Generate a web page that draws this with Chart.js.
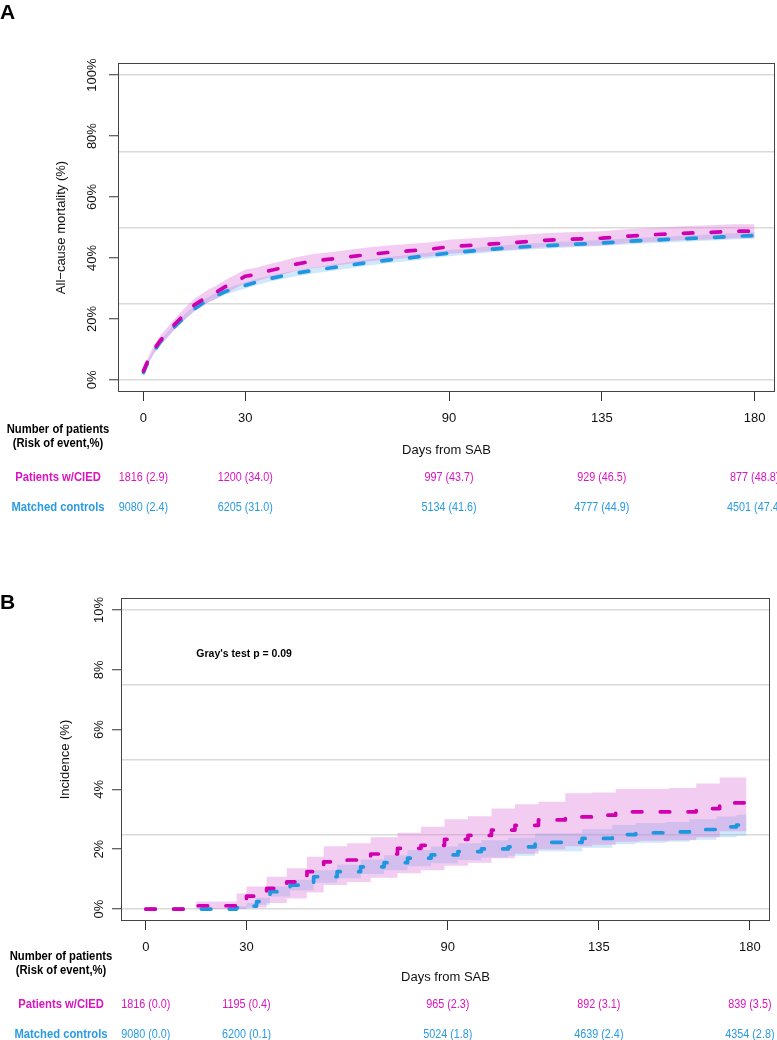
<!DOCTYPE html>
<html><head><meta charset="utf-8">
<script src="https://cdn.jsdelivr.net/npm/chart.js@4.4.1/dist/chart.umd.min.js"></script>
<style>
html,body{margin:0;padding:0;background:#fff;width:777px;height:1040px;overflow:hidden}
.panel{position:absolute;left:0;width:777px;height:520px}
#pa{top:0}
#pb{top:520px}
</style></head><body>
<div class="panel" id="pa"><canvas id="ca" width="777" height="520"></canvas></div>
<div class="panel" id="pb"><canvas id="cb" width="777" height="520"></canvas></div>
<script>
// ---------- Panel A: all-cause mortality ----------
const daysA = [0,1,3,5,7,9,11,13,15,17,19,21,24,27,30,33,37,41,45,50,55,60,66,72,78,84,90,97,104,111,118,125,135,143,151,159,167,174,180];
const ciedA   = [2.9,5.5,9.8,13.0,15.4,18.0,20.3,22.5,24.6,26.0,27.5,28.5,30.5,32.2,34.0,34.5,35.8,36.8,38.0,39.0,39.6,40.3,41.1,41.8,42.3,42.8,43.7,44.2,44.7,45.2,45.8,46.1,46.5,47.2,47.7,48.1,48.4,48.8,48.8];
const ciedHiA = [3.7,6.6,11.2,14.6,17.1,19.8,22.2,24.5,26.6,28.1,29.6,30.6,32.7,34.4,36.2,36.7,38.0,39.0,40.2,41.3,41.9,42.6,43.4,44.1,44.6,45.1,46.0,46.5,47.0,47.5,48.1,48.4,48.8,49.5,50.0,50.4,50.7,51.1,51.1];
const ciedLoA = [2.1,4.4,8.4,11.4,13.7,16.2,18.4,20.5,22.6,23.9,25.4,26.4,28.3,30.0,31.8,32.3,33.6,34.6,35.8,36.7,37.3,38.0,38.8,39.5,40.0,40.5,41.4,41.9,42.4,42.9,43.5,43.8,44.2,44.9,45.4,45.8,46.1,46.5,46.5];
const ctrlA   = [2.4,5.0,9.3,12.5,14.8,17.3,19.4,21.5,23.3,24.8,26.3,27.4,28.9,30.0,31.0,32.0,33.2,34.1,35.0,35.9,36.7,37.5,38.5,39.3,40.0,40.8,41.6,42.3,43.0,43.6,44.0,44.4,44.9,45.5,45.9,46.3,46.7,47.1,47.4];
const ctrlHiA = [2.7,5.5,9.9,13.2,15.6,18.1,20.3,22.4,24.2,25.7,27.2,28.4,29.9,31.0,32.0,33.0,34.2,35.1,36.0,36.9,37.7,38.5,39.5,40.3,41.0,41.8,42.6,43.3,44.0,44.6,45.0,45.4,45.9,46.5,46.9,47.3,47.7,48.1,48.4];
const ctrlLoA = [2.1,4.5,8.7,11.8,14.0,16.5,18.5,20.6,22.4,23.9,25.4,26.4,27.9,29.0,30.0,31.0,32.2,33.1,34.0,34.9,35.7,36.5,37.5,38.3,39.0,39.8,40.6,41.3,42.0,42.6,43.0,43.4,43.9,44.5,44.9,45.3,45.7,46.1,46.4];
const yLabelsA = [0,20,40,60,80,100];
const yGridA   = [0,25,50,75,100];

// ---------- Panel B: incidence ----------
const ciedDaysB = [0,15,27,30,36,42,48,53,60,67,75,82,89,96,103,110,117,125,133,140,147,156,164,171,179];
const ciedB     = [0,0.11,0.2,0.43,0.69,0.91,1.25,1.58,1.64,1.84,2.03,2.13,2.33,2.46,2.64,2.80,2.98,3.08,3.14,3.25,3.25,3.25,3.36,3.55,3.55];
const ciedHiB   = [0,0.25,0.52,0.75,1.08,1.36,1.75,2.1,2.2,2.4,2.55,2.75,3.0,3.1,3.36,3.5,3.59,3.87,3.9,4.01,4.01,4.05,4.2,4.4,4.4];
const ciedLoB   = [0,0,0,0.05,0.2,0.35,0.55,0.8,0.9,1.05,1.2,1.3,1.45,1.55,1.7,1.85,2.0,2.1,2.15,2.25,2.28,2.3,2.4,2.6,2.66];
const ctrlDaysB = [0,27,30,33,37,43,50,57,64,71,78,85,93,100,108,116,130,139,146,155,162,170,176,179];
const ctrlB     = [0,0.04,0.1,0.25,0.58,0.8,1.08,1.25,1.41,1.55,1.70,1.81,1.92,2.01,2.08,2.23,2.36,2.49,2.55,2.58,2.66,2.75,2.81,2.81];
const ctrlHiB   = [0,0.1,0.2,0.38,0.75,0.98,1.3,1.48,1.66,1.8,1.97,2.09,2.2,2.3,2.38,2.53,2.67,2.81,2.88,2.91,3.0,3.09,3.15,3.15];
const ctrlLoB   = [0,0,0.03,0.14,0.42,0.62,0.88,1.03,1.17,1.3,1.43,1.53,1.64,1.72,1.78,1.93,2.05,2.17,2.22,2.25,2.32,2.4,2.45,2.45];
const yLabelsB = [0,2,4,6,8,10];
const yGridB   = [0,2.5,5,7.5,10];

// ---------- shared axis + risk table ----------
const xTickDays = [0,30,90,135,180];
const ciedNA = [1816,1200,997,929,877];
const ciedRiskA = [2.9,34.0,43.7,46.5,48.8];
const ctrlNA = [9080,6205,5134,4777,4501];
const ctrlRiskA = [2.4,31.0,41.6,44.9,47.4];
const ciedNB = [1816,1195,965,892,839];
const ciedRiskB = [0.0,0.4,2.3,3.1,3.5];
const ctrlNB = [9080,6200,5024,4639,4354];
const ctrlRiskB = [0.0,0.1,1.8,2.4,2.8];

const MAG = '#D000B0';
const BLUE = '#1E96E0';
const MAG_TXT = '#DA14C0';
const BLUE_TXT = '#2A9BE2';
const PINK_BAND = 'rgba(218,112,214,0.35)';
const BLUE_BAND = 'rgba(100,180,235,0.30)';
const SANS = '"Liberation Sans", Arial, Helvetica, sans-serif';

function pts(xs, ys){ return xs.map((x,i)=>({x:x, y:ys[i]})); }

function makeDatasets(stepped, dC, c, cLo, cHi, dK, k, kLo, kHi){
  const base = {stepped:stepped, pointRadius:0, pointHoverRadius:0, tension:0};
  const dash = {borderWidth:3.7, borderDash:[9.5,18.3], borderCapStyle:'round', borderJoinStyle:'round', fill:false, order:0};
  return [
    Object.assign({}, base, dash, {label:'Patients w/CIED', data:pts(dC,c), borderColor:MAG}),
    Object.assign({}, base, dash, {label:'Matched controls', data:pts(dK,k), borderColor:BLUE}),
    Object.assign({}, base, {label:'ctrl upper', data:pts(dK,kHi), borderWidth:0, borderColor:'rgba(0,0,0,0)', fill:false, order:2}),
    Object.assign({}, base, {label:'ctrl lower', data:pts(dK,kLo), borderWidth:0, borderColor:'rgba(0,0,0,0)', fill:'-1', backgroundColor:BLUE_BAND, order:2}),
    Object.assign({}, base, {label:'cied upper', data:pts(dC,cHi), borderWidth:0, borderColor:'rgba(0,0,0,0)', fill:false, order:1}),
    Object.assign({}, base, {label:'cied lower', data:pts(dC,cLo), borderWidth:0, borderColor:'rgba(0,0,0,0)', fill:'-1', backgroundColor:PINK_BAND, order:1})
  ];
}

function squeezeText(ctx, s, x, y, sx){
  ctx.save(); ctx.translate(x, y); ctx.scale(sx, 1); ctx.fillText(s, 0, 0); ctx.restore();
}

const panelPlugin = {
  id: 'panel',
  afterDraw(chart, args, o) {
    const ctx = chart.ctx, ca = chart.chartArea, xs = chart.scales.x, ys = chart.scales.y;
    ctx.save();
    // plot box
    ctx.strokeStyle = '#444'; ctx.lineWidth = 1;
    ctx.strokeRect(Math.round(ca.left)+0.5, Math.round(ca.top)+0.5, Math.round(ca.width)-1, Math.round(ca.height)-1);
    // panel letter
    ctx.fillStyle = '#000'; ctx.textAlign = 'left'; ctx.textBaseline = 'middle';
    ctx.font = 'bold 21px ' + SANS;
    ctx.fillText(o.letter, 0, o.letterY);
    // annotation
    if (o.note) {
      ctx.font = 'bold 10.5px ' + SANS; ctx.textAlign = 'center';
      ctx.fillText(o.note, xs.getPixelForValue(o.noteX), ys.getPixelForValue(o.noteY));
    }
    // risk table
    ctx.textAlign = 'center'; ctx.textBaseline = 'middle';
    ctx.font = 'bold 12.5px ' + SANS; ctx.fillStyle = '#000';
    squeezeText(ctx, 'Number of patients', o.labelX, o.row0, 0.9);
    squeezeText(ctx, '(Risk of event,%)', o.labelX, o.row0 + 13.5, 0.9);
    ctx.fillStyle = MAG_TXT; squeezeText(ctx, 'Patients w/CIED', o.labelX, o.row1, 0.9);
    ctx.fillStyle = BLUE_TXT; squeezeText(ctx, 'Matched controls', o.labelX, o.row2, 0.9);
    ctx.font = '12px ' + SANS;
    xTickDays.forEach((d,i)=>{
      const px = xs.getPixelForValue(d);
      ctx.fillStyle = MAG_TXT; squeezeText(ctx, o.cN[i] + ' (' + o.cR[i].toFixed(1) + ')', px, o.row1, 0.9);
      ctx.fillStyle = BLUE_TXT; squeezeText(ctx, o.kN[i] + ' (' + o.kR[i].toFixed(1) + ')', px, o.row2, 0.9);
    });
    ctx.restore();
  }
};

function makeChart(el, cfg){
  const tickFont = {size:13, family:SANS};
  return new Chart(el, {
    type:'line',
    data:{datasets:cfg.datasets},
    plugins:[panelPlugin],
    options:{
      responsive:false, animation:false, events:[], devicePixelRatio:1,
      layout:{padding:cfg.padding},
      plugins:{legend:{display:false}, tooltip:{enabled:false}, panel:cfg.panel},
      scales:{
        x:{type:'linear', min:cfg.xmin, max:cfg.xmax,
          afterBuildTicks:s=>{ s.ticks = xTickDays.map(v=>({value:v})); },
          afterFit:s=>{ s.height = 70; },
          border:{display:false},
          grid:{drawOnChartArea:false, drawTicks:true, tickLength:9, tickColor:'#333', tickWidth:1},
          ticks:{font:tickFont, color:'#111', padding:10, maxRotation:0, minRotation:0, autoSkip:false, callback:v=>String(v)},
          title:{display:true, text:'Days from SAB', font:tickFont, color:'#111', padding:{top:0, bottom:cfg.xTitlePad}}
        },
        y:{type:'linear', min:cfg.ymin, max:cfg.ymax,
          afterBuildTicks:s=>{ const v = Array.from(new Set(cfg.yLabels.concat(cfg.yGrid))).sort((a,b)=>a-b); s.ticks = v.map(t=>({value:t})); },
          afterFit:s=>{ s.width = cfg.yWidth; },
          border:{display:false},
          grid:{drawOnChartArea:true, drawTicks:true, tickLength:9, lineWidth:1.5, tickWidth:1,
            color:c=> cfg.yGrid.includes(c.tick.value) ? '#dadada' : 'rgba(0,0,0,0)',
            tickColor:c=> cfg.yLabels.includes(c.tick.value) ? '#333' : 'rgba(0,0,0,0)'},
          ticks:{font:tickFont, color:'#111', padding:0, autoSkip:false, minRotation:90, maxRotation:90, crossAlign:'center',
            callback:v=> cfg.yLabels.includes(v) ? v + '%' : ''},
          title:{display:true, text:cfg.yTitle, font:tickFont, color:'#111', padding:{top:cfg.yTitlePad, bottom:0}}
        }
      }
    }
  });
}

makeChart(document.getElementById('ca'), {
  datasets: makeDatasets(false, daysA, ciedA, ciedLoA, ciedHiA, daysA, ctrlA, ctrlLoA, ctrlHiA),
  padding:{top:63, right:2, bottom:58, left:0},
  xmin:-7.5, xmax:186, ymin:-4, ymax:104,
  yLabels:yLabelsA, yGrid:yGridA, yWidth:118, yTitle:'All\u2212cause mortality (%)', yTitlePad:54, xTitlePad:4,
  panel:{letter:'A', letterY:13.5, labelX:58, row0:430, row1:478, row2:508,
    cN:ciedNA, cR:ciedRiskA, kN:ctrlNA, kR:ctrlRiskA}
});

makeChart(document.getElementById('cb'), {
  datasets: makeDatasets('before', ciedDaysB, ciedB, ciedLoB, ciedHiB, ctrlDaysB, ctrlB, ctrlLoB, ctrlHiB),
  padding:{top:78, right:7, bottom:49, left:0},
  xmin:-7.4, xmax:186, ymin:-0.4, ymax:10.4,
  yLabels:yLabelsB, yGrid:yGridB, yWidth:121, yTitle:'Incidence (%)', yTitlePad:58, xTitlePad:6,
  panel:{letter:'B', letterY:83, labelX:61, row0:437, row1:485, row2:515,
    note:"Gray's test p = 0.09", noteX:29.3, noteY:8.53,
    cN:ciedNB, cR:ciedRiskB, kN:ctrlNB, kR:ctrlRiskB}
});
</script></body></html>
